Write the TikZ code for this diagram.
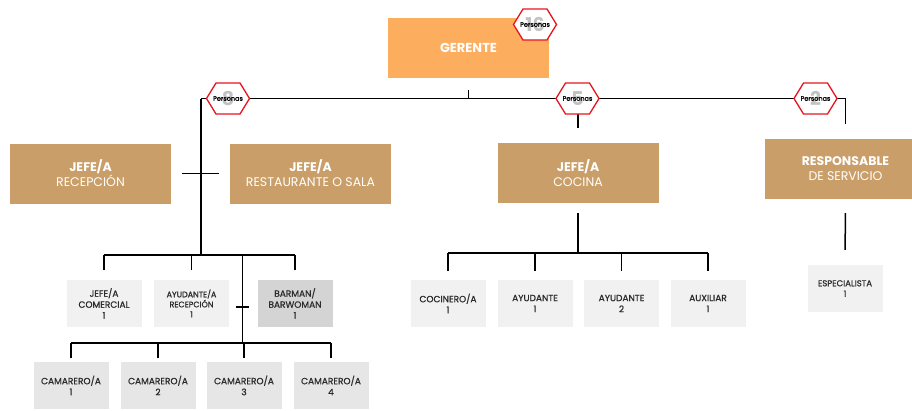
\documentclass[tikz,border=0pt]{standalone}
\usepackage{fontspec}
\setmainfont{Poppins}
\newfontfamily\medfont{Poppins}[FakeBold=0.9]
\definecolor{gerente}{HTML}{FCAE5E}
\definecolor{tanbox}{HTML}{C99E68}
\definecolor{lightbox}{HTML}{F1F1F1}
\definecolor{waiterbox}{HTML}{E6E6E6}
\definecolor{barbox}{HTML}{D4D4D4}
\definecolor{hexred}{HTML}{E8141B}
\definecolor{numgray}{HTML}{C2C2C2}
\definecolor{labeltext}{HTML}{2B2B2B}
\newcommand\badge[4]{% name, x, y, head count
  \draw[hexline] (#2,#3) ++(-21.5,0) -- ++(9.5,-15.5) -- ++(24,0) -- ++(9.5,15.5)
    -- ++(-9.5,15.5) -- ++(-24,0) -- cycle;
  \node[badgenum] (#1) at (#2,#3) {#4};
  \node[badgetxt] at (#1) {Personas};
}
\begin{document}
\begin{tikzpicture}[x=1pt,y=-1pt,
  line/.style={black, line width=1.5pt},
  hexline/.style={draw=hexred, fill=white, line width=1.3pt, line join=miter},
  badgenum/.style={text=numgray, inner sep=0, font=\bfseries\fontsize{19}{19}\selectfont},
  badgetxt/.style={text=black, inner sep=0, font=\medfont\fontsize{6.5}{7}\selectfont},
  topbox/.style={fill=gerente, text=white, minimum width=161pt, minimum height=60pt,
    inner sep=0, font=\bfseries\fontsize{13}{15}\selectfont},
  headbox/.style={fill=tanbox, text=white, minimum width=161pt, minimum height=60pt,
    inner sep=0, align=center, font=\fontsize{12.5}{15}\selectfont},
  staff/.style={fill=lightbox, text=labeltext, minimum width=75pt, minimum height=47pt,
    inner sep=0, align=center, font=\medfont\fontsize{9}{11}\selectfont},
  smallstaff/.style={staff, font=\medfont\fontsize{8}{10}\selectfont},
  waiter/.style={staff, fill=waiterbox},
  bar/.style={staff, fill=barbox}]
\clip (0,0) rectangle (912,410);
\fill[white] (0,0) rectangle (912,410);

% boxes
\node[topbox] (ger) at (468.5,48) {GERENTE};
\node[headbox] (jrec) at (90.5,173.5) {\textbf{JEFE/A}\\RECEPCIÓN};
\node[headbox] (jres) at (310.5,173.5) {\textbf{JEFE/A}\\RESTAURANTE O SALA};
\node[headbox] (jcoc) at (578,173) {\textbf{JEFE/A}\\COCINA};
\node[headbox] (resp) at (845.5,169) {\textbf{RESPONSABLE}\\DE SERVICIO};

\node[staff] (com) at (104,303.5) {JEFE/A\\COMERCIAL\\1};
\node[smallstaff] (ayu) at (191.5,303.5) {AYUDANTE/A\\RECEPCIÓN\\1};
\node[bar] (bar) at (295,303.5) {BARMAN/\\BARWOMAN\\1};

\node[waiter] (c1) at (71,385.5) {CAMARERO/A\\1};
\node[waiter] (c2) at (158,385.5) {CAMARERO/A\\2};
\node[waiter] (c3) at (244,385.5) {CAMARERO/A\\3};
\node[waiter] (c4) at (331,385.5) {CAMARERO/A\\4};

\node[staff] (k1) at (448,303.5) {COCINERO/A\\1};
\node[staff] (k2) at (535,303.5) {AYUDANTE\\1};
\node[staff] (k3) at (621.5,303.5) {AYUDANTE\\2};
\node[staff] (k4) at (708,303.5) {AUXILIAR\\1};

\node[smallstaff, font=\medfont\fontsize{8.5}{10.5}\selectfont] (esp) at (845,288.5) {ESPECIALISTA\\1};

% junction points
\coordinate (topL) at (201,98.5);
\coordinate (topR) at (845.5,98.5);
\coordinate (topC) at (578,98.5);
\coordinate (jA) at (201,255);
\coordinate (jB) at (242.5,343);
\coordinate (jC) at (578,253);
\coordinate (tk1) at (236,307);
\coordinate (tk2) at (249,307);

% connectors
\draw[line, shorten <=12pt] (ger.south) -- (ger.south |- topL);
\draw[line] (topL) -- (topR);
\draw[line, shorten >=15pt] (topR) -- (resp.north);
\draw[line, shorten >=15pt] (topC) -- (jcoc.north);

\draw[line] (topL) -- (jA);
\draw[line, shorten <=11pt, shorten >=11pt] (jrec.east) -- (jres.west);
\draw[line] (com.north |- jA) -- (bar.north |- jA);
\foreach \n in {com,ayu,bar}
  \draw[line, shorten >=10pt] (\n.north |- jA) -- (\n.north);
\draw[line] (jB |- jA) -- (jB);
\draw[line] (tk1) -- (tk2);
\draw[line] (c1.north |- jB) -- (c4.north |- jB);
\foreach \n in {c1,c2,c3,c4}
  \draw[line, shorten >=4pt] (\n.north |- jB) -- (\n.north);

\draw[line, shorten <=10pt] (jcoc.south) -- (jC);
\draw[line] (k1.north |- jC) -- (k4.north |- jC);
\foreach \n in {k1,k2,k3,k4}
  \draw[line, shorten >=9pt] (\n.north |- jC) -- (\n.north);

\draw[line, shorten <=14pt, shorten >=15pt] (resp.south) -- (esp.north);

% head-count badges
\badge{b16}{535}{24.5}{16}
\badge{b8}{228}{98.5}{8}
\badge{b5}{577.5}{98.5}{5}
\badge{b2}{815.5}{98.5}{2}
\end{tikzpicture}
\end{document}
